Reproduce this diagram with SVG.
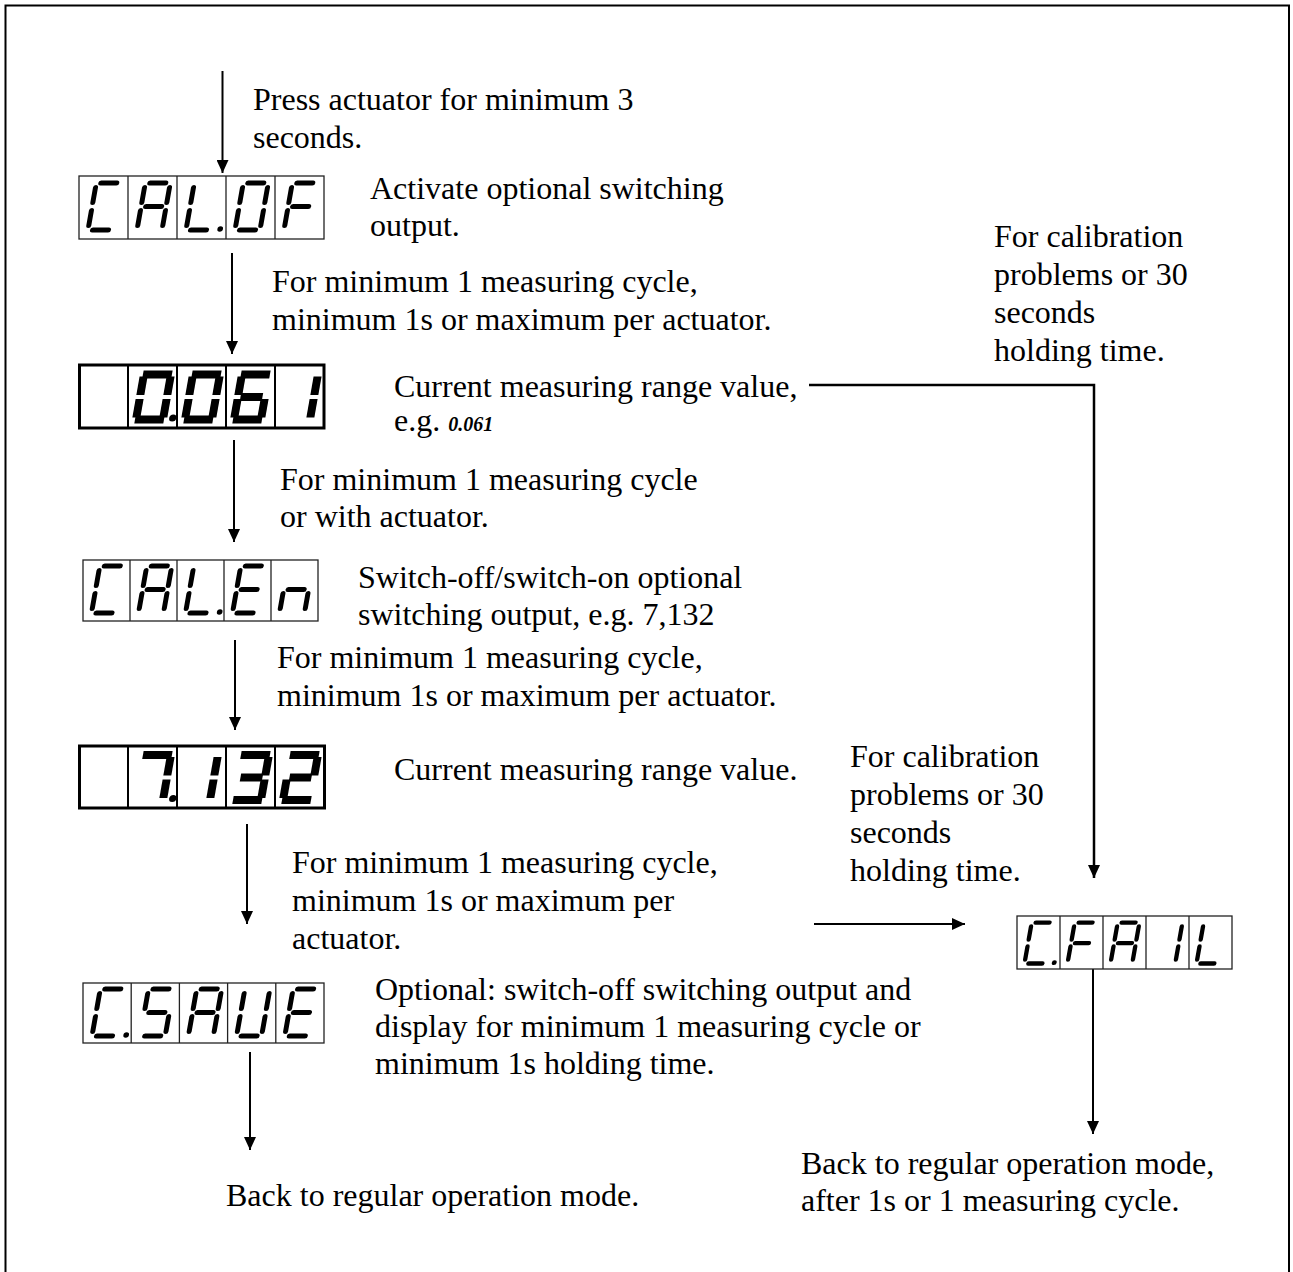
<svg xmlns="http://www.w3.org/2000/svg" xmlns:xlink="http://www.w3.org/1999/xlink" width="1293" height="1272" viewBox="0 0 1293 1272">
<style>
  .t{font-family:'Liberation Serif','Times New Roman',serif;font-size:32px;fill:#000}
  .sm{font-family:'Liberation Serif','Times New Roman',serif;font-size:20px;font-weight:bold;font-style:italic}
  .conn line,.conn polyline{stroke:#000;stroke-width:2;fill:none}
  .thinbox rect,.thinbox line{fill:none;stroke:#222;stroke-width:1.3}
  .boldbox rect{fill:none;stroke:#000;stroke-width:3}
  .boldbox line{stroke:#000;stroke-width:2}
  .td{stroke:#000;stroke-width:5;stroke-linecap:round;fill:#000}
  .bd{stroke:#000;stroke-width:8;stroke-linecap:butt;fill:#000}
</style>
<defs>
  <marker id="ah" markerWidth="13" markerHeight="12" refX="13" refY="6" orient="auto" markerUnits="userSpaceOnUse">
    <path d="M0,0 L13,6 L0,12 z" fill="#000"/>
  </marker>
  <line id="ta" x1="4.5" y1="-47" x2="20.5" y2="-47"/>
  <line id="tb" x1="25" y1="-42.5" x2="25" y2="-27.5"/>
  <line id="tc" x1="25" y1="-19.5" x2="25" y2="-4.5"/>
  <line id="tdd" x1="4.5" y1="0" x2="20.5" y2="0"/>
  <line id="te" x1="0" y1="-19.5" x2="0" y2="-4.5"/>
  <line id="tf" x1="0" y1="-42.5" x2="0" y2="-27.5"/>
  <line id="tg" x1="4.5" y1="-23.5" x2="20.5" y2="-23.5"/>
  <circle id="tp" cx="34" cy="-1" r="2.8" stroke="none"/>
  <line id="ba" x1="-1" y1="-45" x2="28" y2="-45"/>
  <line id="bb" x1="27" y1="-43" x2="27" y2="-24.5"/>
  <line id="bc" x1="27" y1="-20.5" x2="27" y2="-2"/>
  <line id="bdd" x1="-1" y1="0" x2="28" y2="0"/>
  <line id="be" x1="0" y1="-20.5" x2="0" y2="-2"/>
  <line id="bf" x1="0" y1="-43" x2="0" y2="-24.5"/>
  <line id="bg" x1="2.5" y1="-22.5" x2="24.5" y2="-22.5"/>
  <circle id="bp" cx="36.5" cy="-1.5" r="3.6" stroke="none"/>
</defs>

<rect id="frame" x="5.5" y="5.5" width="1283.5" height="1290" fill="none" stroke="#000" stroke-width="2"/>

<g id="connectors" class="conn">
  <line x1="222.5" y1="71" x2="222.5" y2="173" marker-end="url(#ah)"/>
  <line x1="232" y1="253" x2="232" y2="354" marker-end="url(#ah)"/>
  <line x1="234" y1="440" x2="234" y2="542" marker-end="url(#ah)"/>
  <line x1="235" y1="640" x2="235" y2="730" marker-end="url(#ah)"/>
  <line x1="247" y1="824" x2="247" y2="924" marker-end="url(#ah)"/>
  <line x1="250" y1="1052" x2="250" y2="1150" marker-end="url(#ah)"/>
  <polyline points="809,385 1094,385 1094,878" style="stroke-width:2.5" marker-end="url(#ah)"/>
  <line x1="814" y1="924" x2="965" y2="924" marker-end="url(#ah)"/>
  <line x1="1093" y1="969" x2="1093" y2="1134" marker-end="url(#ah)"/>
</g>

<g id="d-calof">
  <g class="thinbox">
    <rect x="79" y="176" width="245" height="63"/>
    <line x1="128" y1="176" x2="128" y2="239"/><line x1="177" y1="176" x2="177" y2="239"/>
    <line x1="226" y1="176" x2="226" y2="239"/><line x1="275" y1="176" x2="275" y2="239"/>
  </g>
  <g class="td">
    <g transform="translate(88,230) skewX(-10)"><use href="#ta"/><use href="#tdd"/><use href="#te"/><use href="#tf"/></g>
    <g transform="translate(137,230) skewX(-10)"><use href="#ta"/><use href="#tb"/><use href="#tc"/><use href="#te"/><use href="#tf"/><use href="#tg"/></g>
    <g transform="translate(186,230) skewX(-10)"><use href="#tdd"/><use href="#te"/><use href="#tf"/><use href="#tp"/></g>
    <g transform="translate(235,230) skewX(-10)"><use href="#ta"/><use href="#tb"/><use href="#tc"/><use href="#tdd"/><use href="#te"/><use href="#tf"/></g>
    <g transform="translate(284,230) skewX(-10)"><use href="#ta"/><use href="#te"/><use href="#tf"/><use href="#tg"/></g>
  </g>
</g>

<g id="d-0061">
  <g class="boldbox">
    <rect x="79.5" y="365" width="244.5" height="63"/>
    <line x1="128" y1="365" x2="128" y2="428"/><line x1="177" y1="365" x2="177" y2="428"/>
    <line x1="226" y1="365" x2="226" y2="428"/><line x1="275" y1="365" x2="275" y2="428"/>
  </g>
  <g class="bd">
    <g transform="translate(136,419.5) skewX(-10)"><use href="#ba"/><use href="#bb"/><use href="#bc"/><use href="#bdd"/><use href="#be"/><use href="#bf"/><use href="#bp"/></g>
    <g transform="translate(185,419.5) skewX(-10)"><use href="#ba"/><use href="#bb"/><use href="#bc"/><use href="#bdd"/><use href="#be"/><use href="#bf"/></g>
    <g transform="translate(234,419.5) skewX(-10)"><use href="#ba"/><use href="#bc"/><use href="#bdd"/><use href="#be"/><use href="#bf"/><use href="#bg"/></g>
    <g transform="translate(283,419.5) skewX(-10)"><use href="#bb"/><use href="#bc"/></g>
  </g>
</g>

<g id="d-calen">
  <g class="thinbox">
    <rect x="83" y="560" width="235" height="61"/>
    <line x1="130" y1="560" x2="130" y2="621"/><line x1="177" y1="560" x2="177" y2="621"/>
    <line x1="224" y1="560" x2="224" y2="621"/><line x1="271" y1="560" x2="271" y2="621"/>
  </g>
  <g class="td">
    <g transform="translate(91.5,613) skewX(-10)"><use href="#ta"/><use href="#tdd"/><use href="#te"/><use href="#tf"/></g>
    <g transform="translate(138.5,613) skewX(-10)"><use href="#ta"/><use href="#tb"/><use href="#tc"/><use href="#te"/><use href="#tf"/><use href="#tg"/></g>
    <g transform="translate(185.5,613) skewX(-10)"><use href="#tdd"/><use href="#te"/><use href="#tf"/><use href="#tp"/></g>
    <g transform="translate(232.5,613) skewX(-10)"><use href="#ta"/><use href="#tdd"/><use href="#te"/><use href="#tf"/><use href="#tg"/></g>
    <g transform="translate(279.5,613) skewX(-10)"><use href="#tc"/><use href="#te"/><use href="#tg"/></g>
  </g>
</g>

<g id="d-7132">
  <g class="boldbox">
    <rect x="79.5" y="746" width="245" height="62"/>
    <line x1="128" y1="746" x2="128" y2="808"/><line x1="177" y1="746" x2="177" y2="808"/>
    <line x1="226" y1="746" x2="226" y2="808"/><line x1="275" y1="746" x2="275" y2="808"/>
  </g>
  <g class="bd">
    <g transform="translate(136,800) skewX(-10)"><use href="#ba"/><use href="#bb"/><use href="#bc"/><use href="#bp"/></g>
    <g transform="translate(183,800) skewX(-10)"><use href="#bb"/><use href="#bc"/></g>
    <g transform="translate(234,800) skewX(-10)"><use href="#ba"/><use href="#bb"/><use href="#bc"/><use href="#bdd"/><use href="#bg"/></g>
    <g transform="translate(283,800) skewX(-10)"><use href="#ba"/><use href="#bb"/><use href="#bg"/><use href="#be"/><use href="#bdd"/></g>
  </g>
</g>

<g id="d-csave">
  <g class="thinbox">
    <rect x="83" y="983" width="241" height="60"/>
    <line x1="131.2" y1="983" x2="131.2" y2="1043"/><line x1="179.4" y1="983" x2="179.4" y2="1043"/>
    <line x1="227.6" y1="983" x2="227.6" y2="1043"/><line x1="275.8" y1="983" x2="275.8" y2="1043"/>
  </g>
  <g class="td">
    <g transform="translate(92,1036) skewX(-10)"><use href="#ta"/><use href="#tdd"/><use href="#te"/><use href="#tf"/><use href="#tp"/></g>
    <g transform="translate(140.2,1036) skewX(-10)"><use href="#ta"/><use href="#tf"/><use href="#tg"/><use href="#tc"/><use href="#tdd"/></g>
    <g transform="translate(188.4,1036) skewX(-10)"><use href="#ta"/><use href="#tb"/><use href="#tc"/><use href="#te"/><use href="#tf"/><use href="#tg"/></g>
    <g transform="translate(236.6,1036) skewX(-10)"><use href="#tb"/><use href="#tc"/><use href="#tdd"/><use href="#te"/><use href="#tf"/></g>
    <g transform="translate(284.8,1036) skewX(-10)"><use href="#ta"/><use href="#tdd"/><use href="#te"/><use href="#tf"/><use href="#tg"/></g>
  </g>
</g>

<g id="d-cfail">
  <g class="thinbox">
    <rect x="1017" y="916" width="215" height="53"/>
    <line x1="1060" y1="916" x2="1060" y2="969"/><line x1="1103" y1="916" x2="1103" y2="969"/>
    <line x1="1146" y1="916" x2="1146" y2="969"/><line x1="1189" y1="916" x2="1189" y2="969"/>
  </g>
  <g class="td">
    <g transform="translate(1024.5,963.5) scale(0.87) skewX(-10)"><use href="#ta"/><use href="#tdd"/><use href="#te"/><use href="#tf"/><use href="#tp"/></g>
    <g transform="translate(1067.5,963.5) scale(0.87) skewX(-10)"><use href="#ta"/><use href="#te"/><use href="#tf"/><use href="#tg"/></g>
    <g transform="translate(1110.5,963.5) scale(0.87) skewX(-10)"><use href="#ta"/><use href="#tb"/><use href="#tc"/><use href="#te"/><use href="#tf"/><use href="#tg"/></g>
    <g transform="translate(1153.5,963.5) scale(0.87) skewX(-10)"><use href="#tb"/><use href="#tc"/></g>
    <g transform="translate(1196.5,963.5) scale(0.87) skewX(-10)"><use href="#tdd"/><use href="#te"/><use href="#tf"/></g>
  </g>
</g>

<g id="labels" class="t">
  <text x="253" y="110">Press actuator for minimum 3</text>
  <text x="253" y="148">seconds.</text>
  <text x="370" y="199">Activate optional switching</text>
  <text x="370" y="236">output.</text>
  <text x="272" y="292">For minimum 1 measuring cycle,</text>
  <text x="272" y="330">minimum 1s or maximum per actuator.</text>
  <text x="994" y="247">For calibration</text>
  <text x="994" y="285">problems or 30</text>
  <text x="994" y="323">seconds</text>
  <text x="994" y="361">holding time.</text>
  <text x="394" y="397">Current measuring range value,</text>
  <text x="394" y="431">e.g. <tspan class="sm">0.061</tspan></text>
  <text x="280" y="490">For minimum 1 measuring cycle</text>
  <text x="280" y="527">or with actuator.</text>
  <text x="358" y="588">Switch-off/switch-on optional</text>
  <text x="358" y="625">switching output, e.g. 7,132</text>
  <text x="277" y="668">For minimum 1 measuring cycle,</text>
  <text x="277" y="706">minimum 1s or maximum per actuator.</text>
  <text x="394" y="780">Current measuring range value.</text>
  <text x="292" y="873">For minimum 1 measuring cycle,</text>
  <text x="292" y="911">minimum 1s or maximum per</text>
  <text x="292" y="949">actuator.</text>
  <text x="850" y="767">For calibration</text>
  <text x="850" y="805">problems or 30</text>
  <text x="850" y="843">seconds</text>
  <text x="850" y="881">holding time.</text>
  <text x="375" y="1000">Optional: switch-off switching output and</text>
  <text x="375" y="1037">display for minimum 1 measuring cycle or</text>
  <text x="375" y="1074">minimum 1s holding time.</text>
  <text x="226" y="1206">Back to regular operation mode.</text>
  <text x="801" y="1174">Back to regular operation mode,</text>
  <text x="801" y="1211">after 1s or 1 measuring cycle.</text>
</g>
</svg>
